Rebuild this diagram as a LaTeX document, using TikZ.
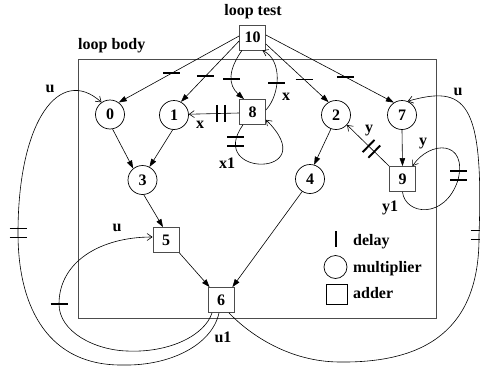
\documentclass[tikz,border=0pt]{standalone}
\usepackage{fontspec}
\setmainfont{Liberation Serif}
\usetikzlibrary{arrows.meta}
\tikzset{
  pics/htick/.style={code={\draw[line width=1.9pt] (-8.5,0) -- (8.5,0);}},
  pics/hdtick/.style={code={\draw[line width=1.9pt] (-8.5,4.5) -- (8.5,4.5) (-8.5,-4.5) -- (8.5,-4.5);}},
  pics/vdtick/.style={code={\draw[line width=1.9pt] (-4,8.5) -- (-4,-8.5) (4,8.5) -- (4,-8.5);}},
}
\begin{document}
\begin{tikzpicture}[x=1pt,y=1pt,
  every node/.style={font=\bfseries\fontsize{16}{16}\selectfont},
  adder/.style={draw=black!70, line width=0.8pt, minimum width=26pt, minimum height=25pt, inner sep=0pt},
  mult/.style={circle, draw, line width=0.7pt, minimum size=29pt, inner sep=0pt},
  lbl/.style={inner sep=0pt},
  fwd/.style={-{Triangle[length=8pt,width=5.5pt]}, line width=0.6pt},
  back/.style={-{Straight Barb[length=5pt,width=7pt]}, line width=0.6pt},
  delaybar/.style={line width=1.9pt},
]
\useasboundingbox (0,0) rectangle (480,-370);

% loop body frame
\draw[black!70, line width=0.8pt] (78,-59) rectangle (436,-318);
\node[lbl, anchor=base] (tloop) at (253,-15) {loop test};
\node[lbl, anchor=base west] (tbody) at (78,-49) {loop body};

% adders
\node[adder] (n10) at (252.5,-37.5) {10};
\node[adder] (n8) at (252.5,-112) {8};
\node[adder] (n9) at (402.5,-179) {9};
\node[adder] (n5) at (166,-240) {5};
\node[adder] (n6) at (221,-300) {6};
% multipliers
\node[mult] (n0) at (110,-114.5) {0};
\node[mult] (n1) at (174,-115) {1};
\node[mult] (n2) at (336,-115) {2};
\node[mult] (n7) at (402,-115) {7};
\node[mult] (n3) at (142.5,-180) {3};
\node[mult] (n4) at (310,-179) {4};

% loop test feeding the body (one delay each)
\draw[fwd] ([yshift=1.5pt]n10.west) -- (n0.54) coordinate[pos=0.56] (d0);
\draw[fwd] ([yshift=-3.5pt]n10.west) -- (n1.62) coordinate[pos=0.58] (d1);
\draw[fwd] ([yshift=-6.5pt]n10.east) -- (n2.120) coordinate[pos=0.61] (d2);
\draw[fwd] ([yshift=2.5pt]n10.east) -- (n7.123) coordinate[pos=0.62] (d7);
\draw[fwd] ([xshift=-10.5pt]n10.south) .. controls (228,-70) and (228,-85) .. ([xshift=-8.5pt]n8.north) coordinate[pos=0.55] (d8);
\pic at (d0) {htick};
\pic at (d1) {htick};
\pic at (d2) {htick};
\pic at (d7) {htick};
\pic at (d8) {htick};

% x recurrence
\draw[back] ([yshift=2pt]n8.east) .. controls (280,-95) and (283,-60) .. ([xshift=-3.5pt]n10.south east) coordinate[pos=0.43] (dx10);
\pic at (dx10) {htick};
\draw[back] ([yshift=-1pt]n8.west) -- (n1.3) coordinate[pos=0.36] (dx1);
\pic at (dx1) {vdtick};
\draw[back] ([xshift=-9.5pt]n8.south) .. controls (205,-178) and (325,-178) .. (n8.-30) coordinate[pos=0.12] (dx8);
\pic at (dx8) {hdtick};

% data flow in the body
\draw[fwd] (n0.-80) -- (n3.129);
\draw[fwd] (n1.-95) -- (n3.62);
\draw[fwd] (n3.-85) -- ([xshift=-3pt]n5.north);
\draw[fwd] (n5.south east) -- ([xshift=2pt]n6.north west);
\draw[fwd] (n2.-110) -- (n4.74);
\draw[fwd] (n4.-122) -- ([xshift=-2pt]n6.north east);
\draw[fwd] (n7.south) -- (n9.north);

% y recurrence
\draw[back] (n9.north west) -- (n2.-42) coordinate[pos=0.42] (dy2);
\pic[rotate=-44] at (dy2) {vdtick};
\draw[back] (n9.south) .. controls (405,-215) and (445,-220) .. (458,-180)
  .. controls (468,-140) and (430,-140) .. ([xshift=-3.5pt]n9.north east) coordinate[pos=0.04] (dy9);
\pic at (dy9) {hdtick};

% u recurrence
\draw[back] ([xshift=-2pt]n6.south) .. controls (212,-345) and (170,-366) .. (123,-365)
  .. controls (50,-366) and (18,-310) .. (18,-233) coordinate (du0)
  .. controls (18,-120) and (60,-65) .. (n0.125);
\pic at (du0) {hdtick};
\draw[back] ([xshift=-9pt]n6.south) .. controls (205,-335) and (170,-353) .. (127,-351)
  .. controls (95,-350) and (59,-332) .. (59,-304) coordinate (du5)
  .. controls (59,-262) and (100,-237) .. ([yshift=3pt]n5.west);
\pic at (du5) {htick};
\draw[back] ([xshift=8pt]n6.south) .. controls (250,-335) and (290,-362) .. (340,-362)
  .. controls (425,-363) and (480,-330) .. (479,-235) coordinate (du7)
  .. controls (484,-100) and (465,-85) .. (n7.68);
\pic at (du7) {hdtick};

% edge labels
\node[lbl] (lu0) at (50,-89) {u};
\node[lbl] (lu5) at (117,-228) {u};
\node[lbl] (lu7) at (458,-92) {u};
\node[lbl] (lu1) at (223,-337) {u1};
\node[lbl] (lx1a) at (200,-125) {x};
\node[lbl] (lx10) at (286,-97) {x};
\node[lbl] (lx8) at (227,-163) {x1};
\node[lbl] (ly2) at (369,-131) {y};
\node[lbl] (ly9) at (423,-144) {y};
\node[lbl] (ly1) at (390,-208) {y1};

% legend
\draw[delaybar] (336,-231) -- (336,-247);
\node[mult, minimum size=23pt] (legm) at (335.5,-267) {};
\node[adder, draw=black, minimum width=21pt, minimum height=20pt] (lega) at (336.5,-294) {};
\node[lbl, anchor=base west] (tdelay) at (353,-245) {delay};
\node[lbl, anchor=base west] (tmult) at (353,-272) {multiplier};
\node[lbl, anchor=base west] (tadd) at (353,-298) {adder};
\end{tikzpicture}
\end{document}
